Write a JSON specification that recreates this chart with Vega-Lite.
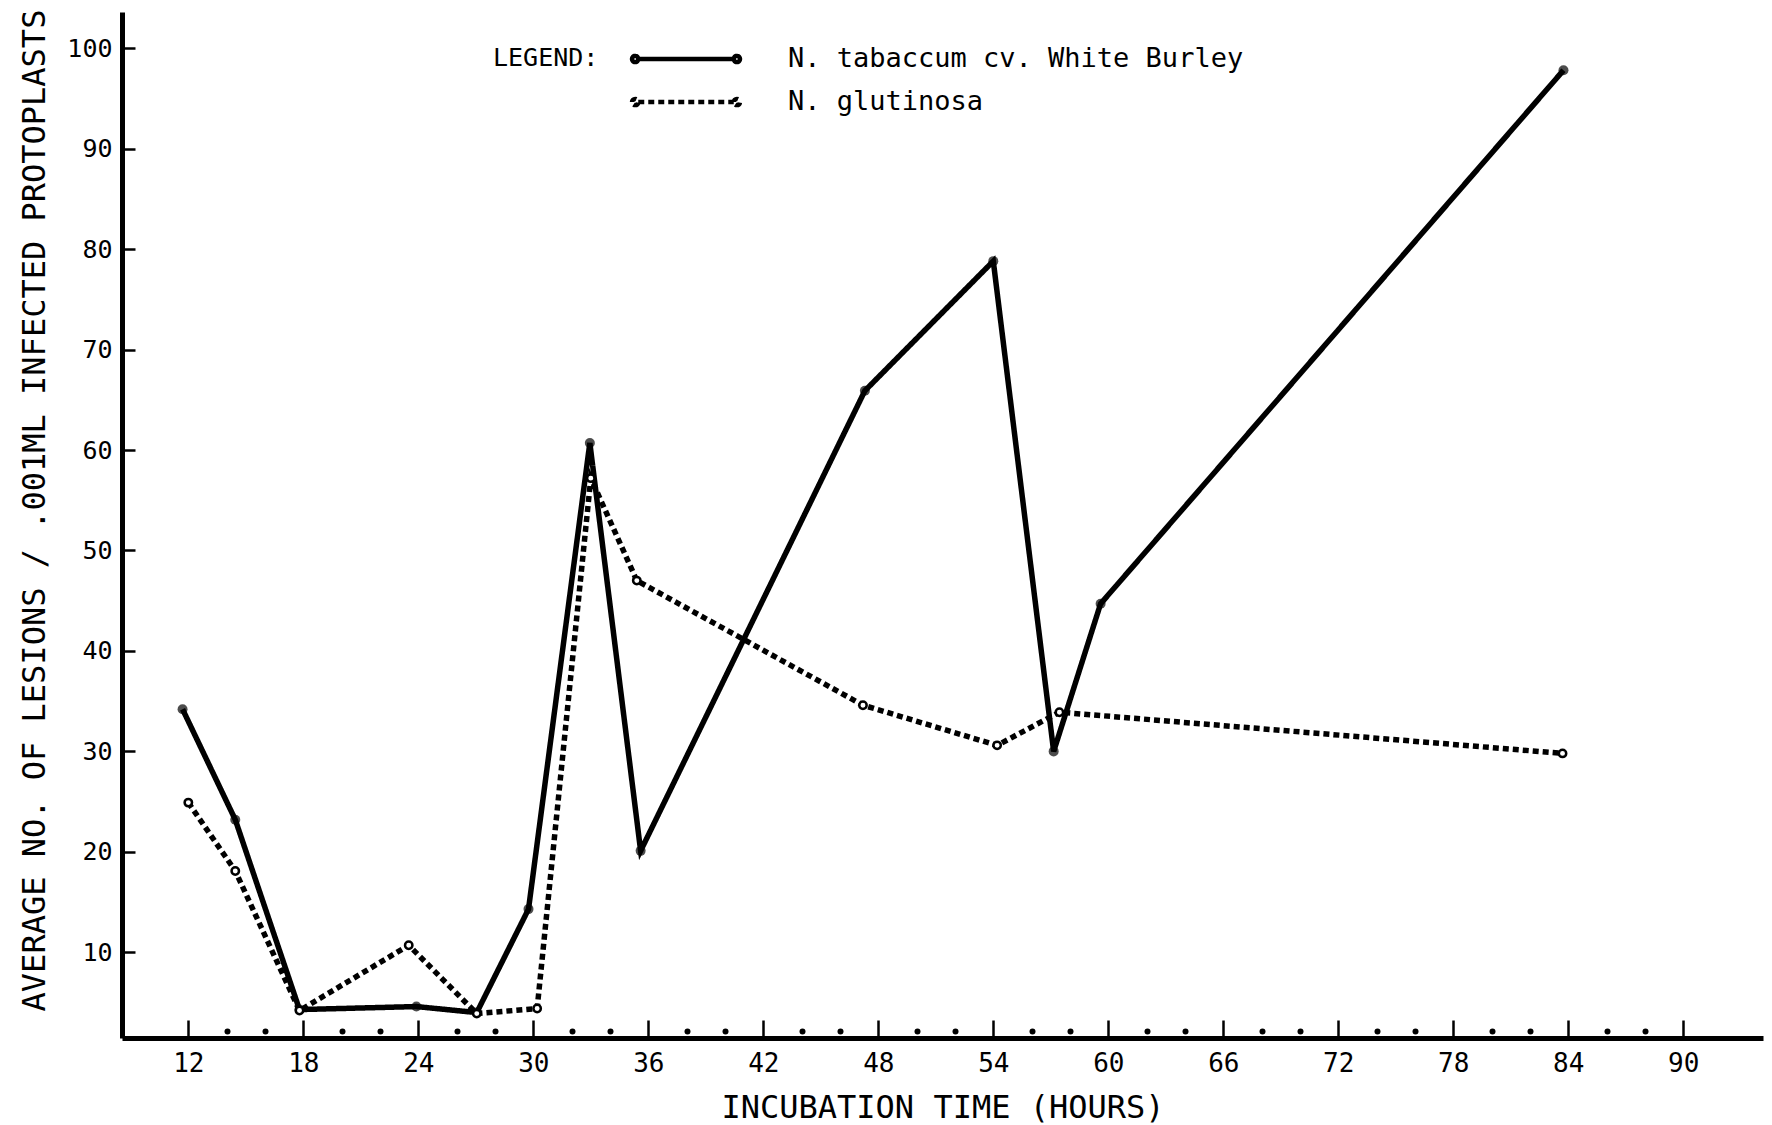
{
  "$schema": "https://vega.github.io/schema/vega-lite/v6.json",
  "width": 1641,
  "height": 1026,
  "autosize": {"type": "none"},
  "padding": {"left": 122, "top": 12, "right": 9, "bottom": 87},
  "background": "white",
  "config": {"view": {"stroke": null}, "font": "DejaVu Sans Mono"},
  "datasets": {
    "obs": [
      {"series": "N. tabaccum cv. White Burley", "hours": 11.7, "lesions": 34.2},
      {"series": "N. tabaccum cv. White Burley", "hours": 14.45, "lesions": 23.2},
      {"series": "N. tabaccum cv. White Burley", "hours": 17.8, "lesions": 4.3},
      {"series": "N. tabaccum cv. White Burley", "hours": 23.9, "lesions": 4.6},
      {"series": "N. tabaccum cv. White Burley", "hours": 27.05, "lesions": 4.0},
      {"series": "N. tabaccum cv. White Burley", "hours": 29.75, "lesions": 14.3},
      {"series": "N. tabaccum cv. White Burley", "hours": 32.95, "lesions": 60.7},
      {"series": "N. tabaccum cv. White Burley", "hours": 35.6, "lesions": 20.1},
      {"series": "N. tabaccum cv. White Burley", "hours": 47.3, "lesions": 65.9},
      {"series": "N. tabaccum cv. White Burley", "hours": 54.0, "lesions": 78.8},
      {"series": "N. tabaccum cv. White Burley", "hours": 57.15, "lesions": 30.0},
      {"series": "N. tabaccum cv. White Burley", "hours": 59.6, "lesions": 44.7},
      {"series": "N. tabaccum cv. White Burley", "hours": 83.75, "lesions": 97.8},
      {"series": "N. glutinosa", "hours": 12.0, "lesions": 24.9},
      {"series": "N. glutinosa", "hours": 14.45, "lesions": 18.1},
      {"series": "N. glutinosa", "hours": 17.8, "lesions": 4.2},
      {"series": "N. glutinosa", "hours": 23.5, "lesions": 10.7},
      {"series": "N. glutinosa", "hours": 27.05, "lesions": 3.9},
      {"series": "N. glutinosa", "hours": 30.2, "lesions": 4.4},
      {"series": "N. glutinosa", "hours": 33.0, "lesions": 57.2},
      {"series": "N. glutinosa", "hours": 35.4, "lesions": 47.0},
      {"series": "N. glutinosa", "hours": 47.2, "lesions": 34.6},
      {"series": "N. glutinosa", "hours": 54.2, "lesions": 30.6},
      {"series": "N. glutinosa", "hours": 57.45, "lesions": 33.9},
      {"series": "N. glutinosa", "hours": 83.7, "lesions": 29.8}
    ]
  },
  "data": {"name": "obs"},
  "resolve": {"axis": {"x": "independent", "y": "independent"}},
  "layer": [
    {
      "mark": {"type": "line", "strokeWidth": 5.5, "color": "black", "strokeCap": "butt"},
      "encoding": {
        "x": {
          "field": "hours",
          "type": "quantitative",
          "scale": {"domain": [8.54, 94.16], "nice": false, "zero": false},
          "axis": {
            "orient": "bottom",
            "values": [12, 18, 24, 30, 36, 42, 48, 54, 60, 66, 72, 78, 84, 90],
            "title": "INCUBATION TIME (HOURS)",
            "grid": true,
            "gridColor": "black",
            "gridOpacity": 1,
            "gridWidth": 2.5,
            "gridDash": [18, 3000],
            "gridDashOffset": 2010,
            "ticks": false,
            "domainWidth": 5,
            "domainColor": "black",
            "labelFont": "DejaVu Sans Mono",
            "labelFontSize": 26,
            "labelColor": "black",
            "labelPadding": 12,
            "labelOverlap": false,
            "labelFlush": false,
            "titleFont": "DejaVu Sans Mono",
            "titleFontSize": 32,
            "titleFontWeight": "normal",
            "titleColor": "black",
            "titleY": 69,
            "titleBaseline": "middle"
          }
        },
        "y": {
          "field": "lesions",
          "type": "quantitative",
          "scale": {"domain": [1.47, 103.6], "nice": false, "zero": false},
          "axis": {
            "orient": "left",
            "values": [10, 20, 30, 40, 50, 60, 70, 80, 90, 100],
            "title": "AVERAGE NO. OF LESIONS / .001ML INFECTED PROTOPLASTS",
            "grid": true,
            "gridColor": "black",
            "gridOpacity": 1,
            "gridWidth": 2.5,
            "gridDash": [13, 3000],
            "gridDashOffset": 0,
            "ticks": false,
            "domainWidth": 5,
            "domainColor": "black",
            "labelFont": "DejaVu Sans Mono",
            "labelFontSize": 25,
            "labelColor": "black",
            "labelPadding": 10,
            "labelOverlap": false,
            "labelFlush": false,
            "titleFont": "DejaVu Sans Mono",
            "titleFontSize": 32,
            "titleFontWeight": "normal",
            "titleColor": "black",
            "titleAngle": 270,
            "titleX": -88,
            "titleY": 498,
            "titleAlign": "center",
            "titleBaseline": "middle"
          }
        },
        "detail": {"field": "series", "type": "nominal"},
        "strokeDash": {
          "field": "series",
          "type": "nominal",
          "scale": {"domain": ["N. tabaccum cv. White Burley", "N. glutinosa"], "range": [[1, 0], [6, 4]]},
          "legend": {
            "orient": "none",
            "legendX": 371,
            "legendY": 34,
            "title": "LEGEND:",
            "titleOrient": "left",
            "titleAnchor": "start",
            "titleBaseline": "top",
            "titleAngle": 0,
            "titleFont": "DejaVu Sans Mono",
            "titleFontSize": 25,
            "titleFontWeight": "normal",
            "titleColor": "black",
            "titlePadding": 28,
            "labelFont": "DejaVu Sans Mono",
            "labelFontSize": 27,
            "labelColor": "black",
            "labelOffset": 43,
            "labelLimit": 1000,
            "symbolType": "M-0.845,0L0.845,0 M-0.955,0A0.055,0.055,0,1,1,-0.845,0A0.055,0.055,0,1,1,-0.955,0Z M0.845,0A0.055,0.055,0,1,1,0.955,0A0.055,0.055,0,1,1,0.845,0Z",
            "symbolSize": 12769,
            "symbolStrokeWidth": 4.5,
            "symbolStrokeColor": "black",
            "symbolFillColor": "white",
            "clipHeight": 26,
            "rowPadding": 16
          }
        }
      }
    },
    {
      "transform": [{"filter": "datum.series === 'N. tabaccum cv. White Burley'"}],
      "mark": {"type": "point", "shape": "circle", "filled": true, "size": 100, "color": "black"},
      "encoding": {
        "x": {"field": "hours", "type": "quantitative", "axis": null},
        "y": {"field": "lesions", "type": "quantitative", "axis": null}
      }
    },
    {
      "transform": [{"filter": "datum.series === 'N. glutinosa'"}],
      "mark": {"type": "point", "shape": "circle", "filled": false, "fill": "white", "fillOpacity": 1, "stroke": "black", "strokeWidth": 2.5, "size": 55, "opacity": 1},
      "encoding": {
        "x": {
          "field": "hours",
          "type": "quantitative",
          "axis": {
            "orient": "bottom",
            "values": [14, 16, 20, 22, 26, 28, 32, 34, 38, 40, 44, 46, 50, 52, 56, 58, 62, 64, 68, 70, 74, 76, 80, 82, 86, 88],
            "domain": false,
            "labels": false,
            "title": null,
            "grid": false,
            "tickColor": "black",
            "tickSize": -10,
            "tickWidth": 6,
            "tickCap": "round",
            "tickDash": [0.01, 100],
            "tickDashOffset": 93
          }
        },
        "y": {"field": "lesions", "type": "quantitative", "axis": null}
      }
    }
  ]
}
